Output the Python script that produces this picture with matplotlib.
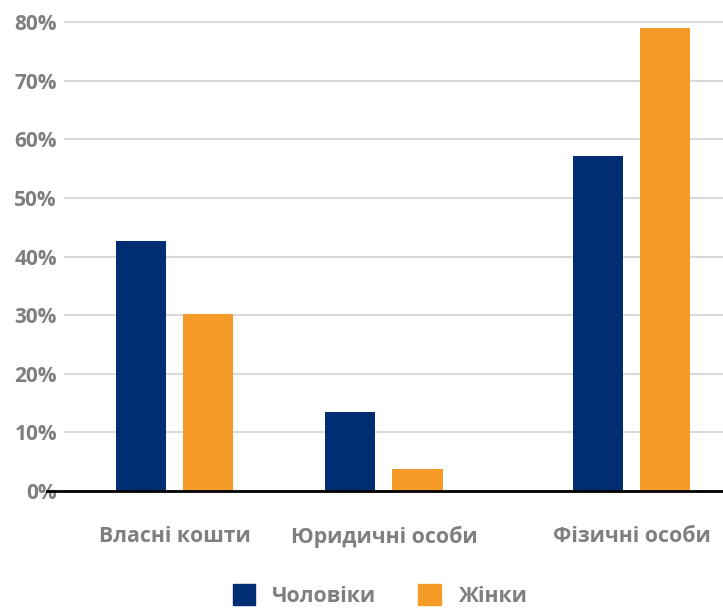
import matplotlib
matplotlib.use("Agg")
import matplotlib.pyplot as plt
from matplotlib.patches import Patch
from matplotlib.ticker import FuncFormatter

categories = ["Власні кошти", "Юридичні особи", "Фізичні особи"]
men = [0.427, 0.135, 0.572]
women = [0.302, 0.038, 0.790]
series_names = ["Чоловіки", "Жінки"]
yticks = [0, 0.1, 0.2, 0.3, 0.4, 0.5, 0.6, 0.7, 0.8]

navy = "#012E73"
orange = "#F69A28"
gray = "#7F7F7F"

plt.rcParams['font.family'] = ['Open Sans', 'DejaVu Sans']
plt.rcParams['font.weight'] = 'bold'

fig = plt.figure(figsize=(7.23, 6.09), dpi=100)
ax = fig.add_axes([64/723, 1-491/609, 1-64/723, (491-19.1)/609])

pos = [0, 1, 2.181]
w = 0.2387
off = 0.16
ax.bar([p - off for p in pos], men, width=w, color=navy, zorder=3)
ax.bar([p + off for p in pos], women, width=w, color=orange, zorder=3)

ax.set_xlim(-0.527, 2.618)
ax.set_ylim(0, 0.805)
ax.set_yticks(yticks)
ax.yaxis.set_major_formatter(FuncFormatter(lambda v, _: f"{round(v*100)}%"))
ax.set_xticks(pos)
ax.set_xticklabels(categories)
ax.tick_params(axis='y', length=0, pad=5, labelsize=15, labelcolor=gray)
ax.tick_params(axis='x', length=0, pad=25, labelsize=15.3, labelcolor=gray)
for s in ax.spines.values():
    s.set_visible(False)
ax.grid(axis='y', color="#D9D9D9", linewidth=1.5, zorder=0)
ax.axhline(0, xmin=-17/659, xmax=1, color="black", linewidth=2, clip_on=False, zorder=4)

handles = [Patch(color=navy), Patch(color=orange)]
fig.legend(handles, series_names, loc='lower center', bbox_to_anchor=(0.525, -0.028),
           ncol=2, frameon=False, fontsize=15.3, labelcolor=gray,
           handlelength=1.05, handleheight=1.15, columnspacing=2.0, handletextpad=0.8)

fig.savefig("out.png", dpi=100)
